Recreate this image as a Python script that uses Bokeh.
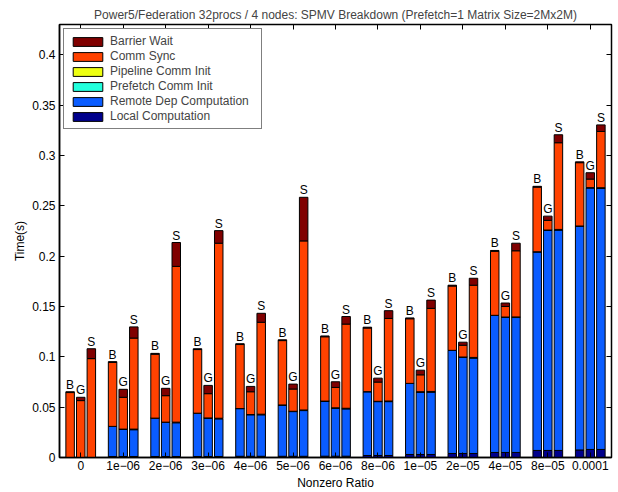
import numpy as np
from bokeh.plotting import figure
from bokeh.models import (ColumnDataSource, FixedTicker, LinearAxis, Legend, LegendItem,
                          PrintfTickFormatter)
from bokeh.core.properties import value
from bokeh.embed import file_html
from bokeh.resources import INLINE

# ---------------- data ----------------
categories = ["0", "1e\u221206", "2e\u221206", "3e\u221206", "4e\u221206", "5e\u221206", "6e\u221206",
              "8e\u221206", "1e\u221205", "2e\u221205", "4e\u221205", "8e\u221205", "0.0001"]
components = ["Local Computation", "Remote Dep Computation", "Prefetch Comm Init",
              "Pipeline Comm Init", "Comm Sync", "Barrier Wait"]
colors = ["#00008c", "#0a5cff", "#22ffdd", "#eeff10", "#ff4200", "#800000"]
bar_labels = ["B", "G", "S"]

local_B = [0, 0.001, 0.001, 0.001, 0.0012, 0.0012, 0.0013, 0.002, 0.003, 0.004, 0.005, 0.007, 0.0075]
local_G = [0, 0.001, 0.001, 0.001, 0.0012, 0.0012, 0.0013, 0.002, 0.003, 0.004, 0.005, 0.007, 0.008]
local_S = [0, 0.001, 0.001, 0.001, 0.0012, 0.0012, 0.0013, 0.002, 0.003, 0.004, 0.005, 0.007, 0.008]

remote_B = [0, 0.0299, 0.0381, 0.0430, 0.0474, 0.0510, 0.0547, 0.0634, 0.0706, 0.1024, 0.1362, 0.1973, 0.2224]
remote_G = [0, 0.0269, 0.0338, 0.0380, 0.0412, 0.0444, 0.0477, 0.0535, 0.0620, 0.0955, 0.1342, 0.2186, 0.2597]
remote_S = [0, 0.0266, 0.0335, 0.0374, 0.0412, 0.0454, 0.0470, 0.0535, 0.0620, 0.0948, 0.1340, 0.2189, 0.2593]

prefetch_B = [0, 0, 0, 0, 0, 0, 0, 0, 0, 0, 0, 0, 0]
prefetch_G = [0, 0.0003, 0.0003, 0.0003, 0.0003, 0.0003, 0.0003, 0.0003, 0.0003, 0.0003, 0.0003, 0.0003, 0.0003]
prefetch_S = [0, 0.0003, 0.0003, 0.0003, 0.0003, 0.0003, 0.0003, 0.0003, 0.0003, 0.0003, 0.0003, 0.0003, 0.0003]

pipeline_B = [0, 0, 0, 0, 0, 0, 0, 0, 0, 0, 0, 0, 0]
pipeline_G = [0, 0, 0, 0, 0, 0, 0, 0, 0, 0, 0, 0, 0]
pipeline_S = [0, 0.0003, 0.0003, 0.0003, 0.0003, 0.0003, 0.0003, 0.0003, 0.0003, 0.0003, 0.0003, 0.0003, 0.0003]

sync_B = [0.0645, 0.0635, 0.0635, 0.0632, 0.0636, 0.0639, 0.0639, 0.0632, 0.0642, 0.0639, 0.0636, 0.0642, 0.0629]
sync_G = [0.0565, 0.0316, 0.0263, 0.0241, 0.0226, 0.0221, 0.0203, 0.0191, 0.0168, 0.0117, 0.0105, 0.0096, 0.0085]
sync_S = [0.0982, 0.0904, 0.1547, 0.1738, 0.0913, 0.1679, 0.0836, 0.0820, 0.0825, 0.0717, 0.0657, 0.0861, 0.0559]

barrier_B = [0.0008, 0.0008, 0.0008, 0.0008, 0.0008, 0.0008, 0.0008, 0.0008, 0.0008, 0.0008, 0.0008, 0.0008, 0.0008]
barrier_G = [0.0033, 0.0079, 0.0073, 0.0082, 0.0053, 0.0049, 0.0056, 0.0039, 0.0046, 0.0030, 0.0034, 0.0042, 0.0063]
barrier_S = [0.0098, 0.0111, 0.0237, 0.0125, 0.0089, 0.0433, 0.0075, 0.0077, 0.0082, 0.0069, 0.0075, 0.0079, 0.0065]

y_ticks = [0, 0.05, 0.1, 0.15, 0.2, 0.25, 0.3, 0.35, 0.4]

series = {
    "B": [local_B, remote_B, prefetch_B, pipeline_B, sync_B, barrier_B],
    "G": [local_G, remote_G, prefetch_G, pipeline_G, sync_G, barrier_G],
    "S": [local_S, remote_S, prefetch_S, pipeline_S, sync_S, barrier_S],
}
offsets = {"B": -0.25, "G": 0.0, "S": 0.25}

FONT = "Liberation Sans"

p = figure(width=618, height=492, x_range=(0.5, 13.5), y_range=(0, 0.43),
           output_backend="svg", toolbar_location=None,
           min_border_left=59, min_border_right=7, min_border_top=24, min_border_bottom=30,
           title="Power5/Federation 32procs / 4 nodes: SPMV Breakdown (Prefetch=1 Matrix Size=2Mx2M)")
p.title.text_font = FONT
p.title.text_font_size = "12px"
p.title.text_font_style = "normal"
p.title.align = "center"
p.title.standoff = 5
p.title.offset = 0

p.xgrid.visible = False
p.ygrid.visible = False
p.outline_line_color = "black"
p.outline_line_width = 1.5
p.background_fill_color = "white"
p.border_fill_color = "white"

keys = [c.replace(" ", "_") for c in components]
xs = np.arange(1, len(categories) + 1)
legend_renderers = None
tops_all = []
for lab in bar_labels:
    data = {"x": xs + offsets[lab]}
    for k, vals in zip(keys, series[lab]):
        data[k] = vals
    src = ColumnDataSource(data)
    rs = p.vbar_stack(keys, x="x", width=0.2, source=src, fill_color=colors,
                      line_color="black", line_width=1)
    if legend_renderers is None:
        legend_renderers = rs
    tops = np.sum(np.array(series[lab]), axis=0)
    tops_all.append((xs + offsets[lab], tops, lab))

tx, ty, tt = [], [], []
for xv, tv, lab in tops_all:
    tx += list(xv)
    ty += list(tv)
    tt += [lab] * len(xv)
lsrc = ColumnDataSource(dict(x=tx, y=ty, t=tt))
p.text(x="x", y="y", text="t", source=lsrc, text_font=value(FONT), text_font_size="12px",
       text_align="center", text_baseline="alphabetic", y_offset=-7, text_color="black")

# axes
xa = p.xaxis[0]
xa.ticker = FixedTicker(ticks=list(xs))
xa.major_label_overrides = {int(i): c for i, c in zip(xs, categories)}
ya = p.yaxis[0]
ya.ticker = FixedTicker(ticks=y_ticks)
ya.formatter = PrintfTickFormatter(format="%g")
for ax in (xa, ya):
    ax.major_tick_in = 5
    ax.major_tick_out = 0
    ax.minor_tick_line_color = None
    ax.axis_line_color = "black"
    ax.axis_line_width = 1.5
    ax.major_tick_line_color = "black"
    ax.major_label_text_font = FONT
    ax.major_label_text_font_size = "12px"
    ax.major_label_text_color = "black"
    ax.axis_label_text_font = FONT
    ax.axis_label_text_font_size = "12px"
    ax.axis_label_text_font_style = "normal"
    ax.axis_label_text_color = "black"
xa.axis_label = "Nonzero Ratio"
xa.major_label_standoff = 3
xa.axis_label_standoff = 3
ya.axis_label = "Time(s)"
ya.major_label_standoff = 4
ya.axis_label_standoff = 2

top_ax = LinearAxis(ticker=FixedTicker(ticks=list(xs)))
top_ax.major_label_overrides = {int(i): "" for i in xs}
right_ax = LinearAxis(ticker=FixedTicker(ticks=y_ticks))
right_ax.major_label_overrides = {t: "" for t in y_ticks}
for ax in (top_ax, right_ax):
    ax.major_tick_in = 5
    ax.major_tick_out = 0
    ax.minor_tick_line_color = None
    ax.major_label_text_font_size = "1px"
    ax.major_label_standoff = 0
    ax.axis_line_color = None
    ax.major_tick_line_color = "black"
p.add_layout(top_ax, "above")
p.add_layout(right_ax, "right")

items = [LegendItem(label=components[i], renderers=[legend_renderers[i]]) for i in range(5, -1, -1)]
legend = Legend(items=items, location="top_left", margin=4, padding=5, spacing=1,
                glyph_width=37, glyph_height=11, label_height=11, label_standoff=4,
                label_width=146,
                label_text_font=FONT, label_text_font_size="12px",
                border_line_color="black", border_line_width=1,
                background_fill_alpha=1.0)
p.add_layout(legend, "center")

open("out.html", "w").write(file_html(p, INLINE))
